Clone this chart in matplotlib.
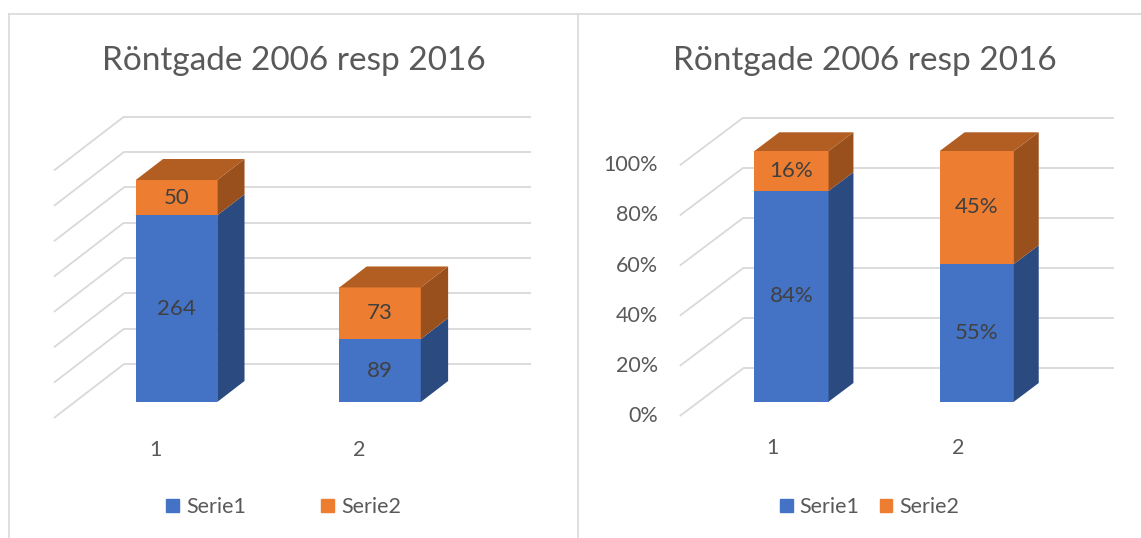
import matplotlib
matplotlib.use("Agg")
import matplotlib.pyplot as plt
from matplotlib.patches import Polygon, Patch
from matplotlib.lines import Line2D

plt.rcParams['font.family'] = ['Lato', 'DejaVu Sans']

# data
categories = [1, 2]
cat_labels = ["1", "2"]
serie1 = [264, 89]
serie2 = [50, 73]
series_names = ["Serie1", "Serie2"]
title = "Röntgade 2006 resp 2016"

totals = [a + b for a, b in zip(serie1, serie2)]
pct1 = [100 * a / t for a, t in zip(serie1, totals)]
pct2 = [100 * b / t for b, t in zip(serie2, totals)]
pct_grid = [0, 20, 40, 60, 80, 100]
abs_grid = [0, 50, 100, 150, 200, 250, 300, 350]

# colours (Excel office theme, with 3D shading)
blue, blue_side = "#4472C4", "#2A4A80"
orange, orange_top, orange_side = "#ED7D31", "#B25D22", "#9A501C"
grid_col = "#D9D9D9"
text_col = "#595959"
label_col = "#404040"

W, H = 1141, 538
fig = plt.figure(figsize=(W / 100, H / 100), dpi=100)


def make_axes(x0, x1, cx1, sx, by, sy):
    # axes covering a panel; cx1 = pixel x of category 1, by = pixel y of value 0
    ax = fig.add_axes([x0 / W, 0, (x1 - x0) / W, 1])
    ax.set_xlim(1 + (x0 - cx1) / sx, 1 + (x1 - cx1) / sx)
    ax.set_ylim((by - H) / sy, by / sy)
    ax.axis("off")
    return ax


def draw_panel(ax, sx, sy, kx, zf, zbar, zb, s1, s2, grid, lab1, lab2, ticks=None):
    # depth offsets in data units (z in px of vertical shift)
    def off(z):
        return z * kx / sx, z / sy

    fdx, fdy = off(-zf)
    bdx, bdy = off(zb)
    for g in grid:
        ax.plot([0.5 + fdx, 0.5 + bdx], [g + fdy, g + bdy], color=grid_col, lw=1.3, zorder=1,
                solid_capstyle="butt")
        ax.plot([0.5 + bdx, 2.5 + bdx], [g + bdy, g + bdy], color=grid_col, lw=1.3, zorder=1,
                solid_capstyle="butt")
    if ticks is not None:
        for g, t in zip(grid, ticks):
            ax.text(0.5 + fdx - 22 / sx, g + fdy, t, ha="right", va="center",
                    fontsize=15.5, color=text_col)

    w = 0.4
    ax.bar(categories, s1, width=w, color=blue, zorder=3)
    ax.bar(categories, s2, bottom=s1, width=w, color=orange, zorder=3)
    ddx, ddy = off(zbar)
    for x, a, b in zip(categories, s1, s2):
        r = x + w / 2
        l = x - w / 2
        ax.add_patch(Polygon([(r, 0), (r + ddx, ddy), (r + ddx, a + ddy), (r, a)],
                             closed=True, color=blue_side, lw=0, zorder=3))
        ax.add_patch(Polygon([(r, a), (r + ddx, a + ddy), (r + ddx, a + b + ddy), (r, a + b)],
                             closed=True, color=orange_side, lw=0, zorder=3))
        ax.add_patch(Polygon([(l, a + b), (r, a + b), (r + ddx, a + b + ddy), (l + ddx, a + b + ddy)],
                             closed=True, color=orange_top, lw=0, zorder=3))

    for x, a, b, t1, t2 in zip(categories, s1, s2, lab1, lab2):
        ax.text(x, a / 2, t1, ha="center", va="center", fontsize=16, color=label_col, zorder=5)
        ax.text(x, a + b / 2, t2, ha="center", va="center", fontsize=16, color=label_col, zorder=5)

    for x, t in zip(categories, cat_labels):
        ax.text(x + fdx, fdy - 32 / sy, t, ha="center", va="center", fontsize=15.5, color=text_col)


# left panel: absolute values
axl = make_axes(9, 577, 176.5, 203.6, 402, 0.707)
draw_panel(axl, 203.6, 0.707, 1.3, 16, 21, 38, serie1, serie2, abs_grid,
           [str(v) for v in serie1], [str(v) for v in serie2])

# right panel: 100% stacked
axr = make_axes(578, W, 791.5, 185.3, 401.7, 2.507)
draw_panel(axr, 185.3, 2.507, 1.33, 14.3, 18.7, 33.4, pct1, pct2, pct_grid,
           [f"{round(v)}%" for v in pct1], [f"{round(v)}%" for v in pct2],
           ticks=[f"{g}%" for g in pct_grid])

# titles
fig.text(294 / W, 1 - 70 / H, title, ha="center", va="baseline", fontsize=24, color=text_col)
fig.text(865 / W, 1 - 70 / H, title, ha="center", va="baseline", fontsize=24, color=text_col)

# legends
handles = [Patch(color=blue), Patch(color=orange)]
for cx, cs in [(283.5, 3.5), (869.5, 0.93)]:
    fig.legend(handles, series_names, ncol=2, loc="center", bbox_to_anchor=(cx / W, 1 - 507 / H),
               frameon=False, fontsize=15.5, labelcolor=text_col, handlelength=0.6, handleheight=0.6,
               handletextpad=0.33, columnspacing=cs, borderpad=0, borderaxespad=0)

# chart borders
for xs, ys in [([8.5, W], [13.5, 13.5]), ([8.5, 8.5], [13.5, H]), ([577.5, 577.5], [13.5, H])]:
    fig.add_artist(Line2D([x / W for x in xs], [1 - y / H for y in ys], color=grid_col, lw=1.2))

fig.savefig("out.png", dpi=100, facecolor="white")
